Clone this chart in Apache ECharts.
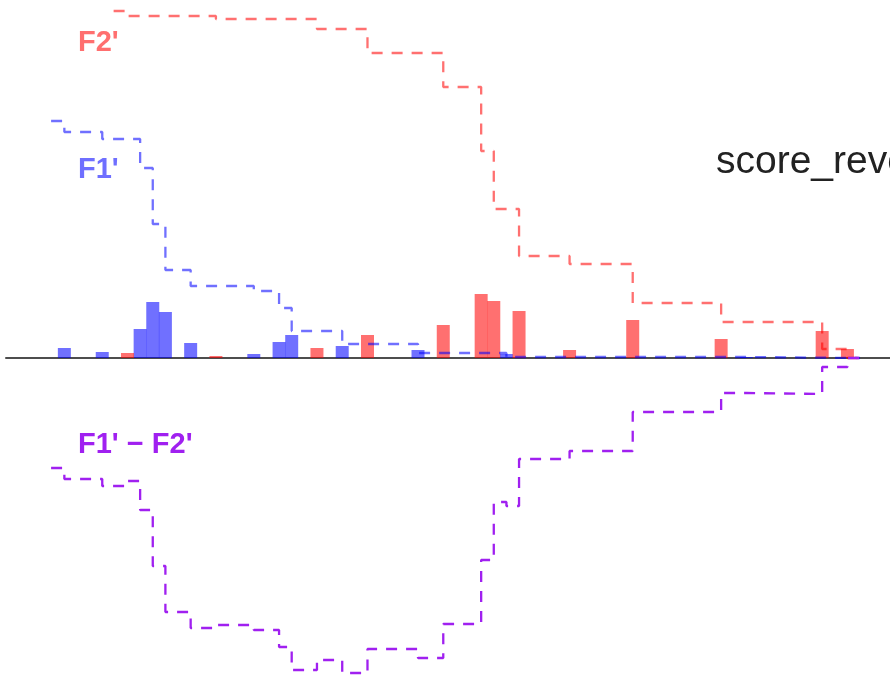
<!DOCTYPE html>
<html>
<head>
<meta charset="utf-8">
<script src="https://cdn.jsdelivr.net/npm/echarts@6/dist/echarts.min.js"></script>
<style>
  html, body { margin: 0; padding: 0; background: #ffffff; }
  #chart { width: 890px; height: 685px; }
</style>
</head>
<body>
<div id="chart"></div>
<script>
// ---- Data ----
// Histogram bins (bin index along the score axis) and bar heights
const blueBins   = [4, 7, 10, 11, 12, 14, 19, 21, 22, 26, 32, 39, 58];
const blueCounts = [10, 6, 29, 56, 46, 15, 4, 16, 23, 12, 8, 4, 1];
const redBins    = [9, 16, 24, 28, 34, 37, 38, 40, 44, 49, 56, 64, 66];
const redCounts  = [5, 2, 10, 23, 33, 64, 57, 47, 8, 38, 19, 27, 9];

// Reverse cumulative step curves: x where the step happens, value after the step
const f1X = [3.45, 4.5, 7.5, 10.5, 11.5, 12.5, 14.5, 19.5, 21.5, 22.5, 26.5, 32.5, 39.5, 58.5, 67.5];
const f1Y = [237, 226, 219, 190, 134, 88, 72, 67, 50, 27, 14, 5, 1, 0, 0];

const f2X = [8.4, 9.5, 16.5, 24.5, 28.5, 34.5, 37.5, 38.5, 40.5, 44.5, 49.5, 56.5, 64.5, 66.5, 67.5];
const f2Y = [347, 342, 339, 329, 305, 271, 207, 149, 102, 94, 55, 36, 9, 0, 0];

const dX = [3.45, 4.5, 7.5, 9.5, 10.5, 11.5, 12.5, 14.5, 16.5, 19.5, 21.5, 22.5, 24.5, 26.5, 28.5,
            32.5, 34.5, 37.5, 38.5, 39.5, 40.5, 44.5, 49.5, 56.5, 58.5, 64.5, 66.5, 67.5];
const dY = [-110, -121, -128, -123, -152, -208, -254, -270, -267, -272, -289, -312, -302, -315, -291,
            -300, -266, -202, -144, -148, -101, -93, -54, -35, -36, -9, 0, 0];

const labelF1 = "F1'";
const labelF2 = "F2'";
const labelDiff = "F1' \u2212 F2'";
const axisTitle = "score_reversed";

// ---- Build ----
const zip = (xs, ys) => xs.map((x, i) => [x, ys[i]]);
const barData = (bins, counts) => bins.map((b, i) => [b + 0.5, counts[i]]);

const chart = echarts.init(document.getElementById('chart'), null, { renderer: 'canvas' });

const dashed = [11, 9];
const labelFont = 'bold 29px "Liberation Sans", Arial, sans-serif';

chart.setOption({
  animation: false,
  backgroundColor: '#ffffff',
  grid: { left: 6, right: 0, top: 0, bottom: 0, containLabel: false },
  xAxis: {
    type: 'value',
    min: -0.12,
    max: 69.87,
    axisLine: { show: true, onZero: true, lineStyle: { color: '#4d4d4d', width: 2 } },
    axisTick: { show: false },
    axisLabel: { show: false },
    splitLine: { show: false }
  },
  yAxis: {
    type: 'value',
    min: -327,
    max: 358,
    show: false,
    splitLine: { show: false }
  },
  graphic: [
    { type: 'text', x: 716, y: 162, style: { text: axisTitle, fill: '#222222',
      font: '39px "Liberation Sans", Arial, sans-serif', verticalAlign: 'middle' } },
    { type: 'text', x: 78, y: 43, style: { text: labelF2, fill: '#ff6f6f',
      font: labelFont, verticalAlign: 'middle' } },
    { type: 'text', x: 78, y: 170, style: { text: labelF1, fill: '#6f6fff',
      font: labelFont, verticalAlign: 'middle' } },
    { type: 'text', x: 78, y: 445, style: { text: labelDiff, fill: '#a020f0',
      font: labelFont, verticalAlign: 'middle' } }
  ],
  series: [
    {
      name: 'F1 hist', type: 'bar', data: barData(blueBins, blueCounts),
      barWidth: 13, barGap: '-100%',
      itemStyle: { color: 'rgba(0,0,255,0.56)' }, z: 2
    },
    {
      name: 'F2 hist', type: 'bar', data: barData(redBins, redCounts),
      barWidth: 13, barGap: '-100%',
      itemStyle: { color: 'rgba(255,0,0,0.56)' }, z: 2
    },
    {
      name: labelF2, type: 'line', step: 'end', data: zip(f2X, f2Y), symbol: 'none',
      lineStyle: { color: 'rgba(255,0,0,0.56)', width: 2.3, type: dashed }, z: 3
    },
    {
      name: labelF1, type: 'line', step: 'end', data: zip(f1X, f1Y), symbol: 'none',
      lineStyle: { color: 'rgba(0,0,255,0.56)', width: 2.3, type: dashed }, z: 3
    },
    {
      name: labelDiff, type: 'line', step: 'end', data: zip(dX, dY), symbol: 'none',
      lineStyle: { color: '#a020f0', width: 2.3, type: dashed }, z: 3
    }
  ]
});
</script>
</body>
</html>
